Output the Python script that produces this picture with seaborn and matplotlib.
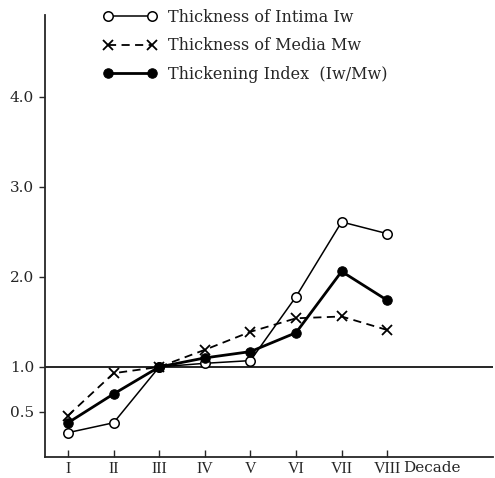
import matplotlib
matplotlib.use("Agg")
import matplotlib.pyplot as plt
import seaborn as sns
import pandas as pd

# Decade groups and relative values (group III = 1.0)
decades = [1, 2, 3, 4, 5, 6, 7, 8]
decade_labels = ["I", "II", "III", "IV", "V", "VI", "VII", "VIII"]
intima = [0.27, 0.38, 1.00, 1.04, 1.07, 1.78, 2.61, 2.48]
media = [0.46, 0.93, 1.00, 1.19, 1.39, 1.54, 1.56, 1.41]
index = [0.38, 0.70, 1.00, 1.10, 1.17, 1.38, 2.06, 1.74]
ytick_values = [0.5, 1.0, 2.0, 3.0, 4.0]
ytick_labels = ["0.5", "1.0", "2.0", "3.0", "4.0"]

sns.set_style("ticks")
plt.rcParams["font.family"] = ["DejaVu Serif"]

fig = plt.figure(figsize=(4.95, 4.78), dpi=100)
ax = fig.add_axes([0.091, 0.044, 0.905, 0.925])

df = pd.DataFrame({"decade": decades, "intima": intima,
                   "media": media, "index": index})

sns.lineplot(data=df, x="decade", y="intima", ax=ax, color="black",
             linewidth=1.1, marker="o", markersize=6.8,
             markerfacecolor="white", markeredgecolor="black",
             markeredgewidth=1.1, label="Thickness of Intima Iw", zorder=3)
sns.lineplot(data=df, x="decade", y="media", ax=ax, color="black",
             linewidth=1.3, marker="x", markersize=7.5,
             markeredgecolor="black", markeredgewidth=1.3,
             linestyle=(0, (4.5, 3)),
             label="Thickness of Media Mw", zorder=3)
sns.lineplot(data=df, x="decade", y="index", ax=ax, color="black",
             linewidth=2.0, marker="o", markersize=6.8,
             markerfacecolor="black", markeredgecolor="black",
             label="Thickening Index  (Iw/Mw)", zorder=4)

# Reference level at 1.0
ax.axhline(1.0, color="black", linewidth=1.2, zorder=1)

ax.set_xlim(0.496, 10.32)
ax.set_ylim(0, 4.91)
ax.set_xticks(decades)
ax.set_xticklabels(decade_labels, fontsize=11.5, family="Liberation Serif")
ax.set_yticks(ytick_values)
ax.set_yticklabels(ytick_labels, fontsize=11)
ax.tick_params(axis="x", direction="in", length=5, width=1, pad=3)
ax.tick_params(axis="y", direction="out", length=4, width=1, pad=4)
ax.set_xlabel("")
ax.set_ylabel("")

for side in ("top", "right"):
    ax.spines[side].set_visible(False)
for side in ("left", "bottom"):
    ax.spines[side].set_linewidth(1.3)

ax.annotate("Decade", xy=(8.34, 0), xycoords=("data", "axes fraction"),
            xytext=(0, -3), textcoords="offset points", fontsize=11,
            ha="left", va="top")

leg = ax.legend(loc="upper left", bbox_to_anchor=(0.115, 1.028),
                frameon=False, fontsize=11.5, numpoints=2, handlelength=3.4,
                handletextpad=0.7, labelspacing=0.72, borderaxespad=0)

fig.savefig("out.png", dpi=100, facecolor="white")
